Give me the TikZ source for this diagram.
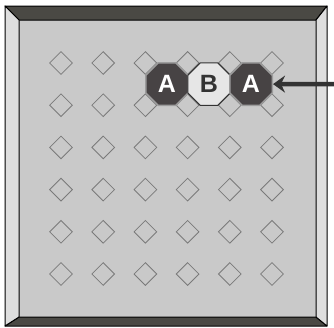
\documentclass[tikz,border=0pt]{standalone}
\usepackage{fontspec}
\setmainfont{Liberation Sans}
\usetikzlibrary{shapes.geometric,arrows.meta}
\definecolor{bgc}{HTML}{C9C9C9}
\definecolor{bevlight}{HTML}{DEDEDE}
\definecolor{bevdark}{HTML}{4A4944}
\definecolor{diaedge}{HTML}{7A7A7A}
\definecolor{octdark}{HTML}{474344}
\definecolor{octring}{HTML}{9C9C9C}
\definecolor{octlight}{HTML}{E6E6E6}
\definecolor{arrowc}{HTML}{333333}
\tikzset{
  dia/.style={diamond,draw=diaedge,line width=0.8pt,fill=bgc,inner sep=0pt,minimum width=23pt,minimum height=23pt},
  octa/.style={regular polygon,regular polygon sides=8,minimum size=46pt,inner sep=0pt,
     font=\fontsize{25}{25}\selectfont\bfseries},
  octA/.style={octa,fill=octdark,draw=octring,line width=1.5pt,text=white},
  octB/.style={octa,fill=octlight,draw=arrowc,line width=1pt,text=arrowc},
  bevel/.style={draw=black,line width=1pt,line join=round},
}
\begin{document}
\begin{tikzpicture}[x=1pt,y=-1pt]
\useasboundingbox (0,0) rectangle (334,327);
% frame
\fill[bgc] (19,20) rectangle (316,317);
\filldraw[bevel,fill=bevdark] (5,6) -- (327,6) -- (316,20) -- (19,20) -- cycle;
\filldraw[bevel,fill=bevdark] (5,326) -- (327,326) -- (316,317) -- (19,317) -- cycle;
\filldraw[bevel,fill=bevlight] (5,6) -- (19,20) -- (19,317) -- (5,326) -- cycle;
\filldraw[bevel,fill=bevlight] (327,6) -- (316,20) -- (316,317) -- (327,326) -- cycle;
% diamonds
\foreach \r in {0,...,5}{
  \foreach \c in {0,...,5}{
    \node[dia] (d-\r-\c) at ({61+42.2*\c},{63+42.2*\r}) {};
  }
}
% octagons
\node[octA] (a1) at (167,84.1) {A};
\node[octB] (b1) at (209,84.1) {B};
\node[octA] (a2) at (251,84.1) {A};
% arrow
\coordinate (src) at (336,84.1);
\draw[arrowc,line width=4.5pt,-{Stealth[length=12pt,width=17pt,inset=4pt]}] (src) -- (a2.east);
\end{tikzpicture}
\end{document}
